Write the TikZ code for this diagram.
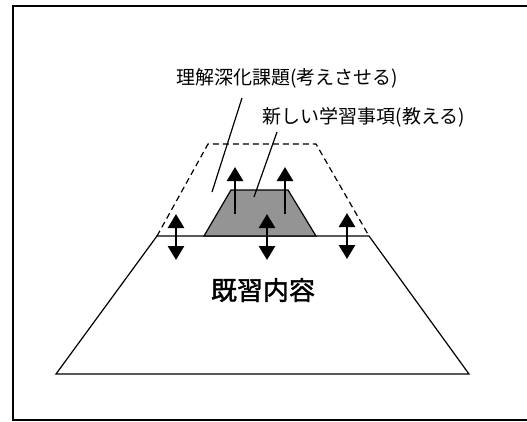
\documentclass[tikz,border=0pt]{standalone}
\usepackage{fontspec}
\newfontfamily\cjk{Noto Sans CJK JP}
\newfontfamily\cjkb[FakeBold=1.6]{Noto Sans CJK JP}
\usetikzlibrary{arrows.meta}

\begin{document}
\begin{tikzpicture}[x=1pt,y=-1pt,line width=1.2pt,
                    >={Triangle[width=16pt,length=14pt]},
                    lbl/.style={font=\cjk\fontsize{19}{19}\selectfont,inner sep=0pt},
                    arr/.style={line width=2.6pt}]

	\useasboundingbox (0,0) rectangle (527,421);
	\draw (13,6) rectangle (540,420);

	\coordinate (BL) at (56,374);
	\coordinate (BR) at (469,374);
	\coordinate (TL) at (157,236);
	\coordinate (TR) at (369,236);
	\coordinate (DL) at (208,144);
	\coordinate (DR) at (316,144);
	\coordinate (GL) at (204,236);
	\coordinate (GR) at (316,236);
	\coordinate (HL) at (231,190);
	\coordinate (HR) at (288,190);

	\draw (TL) -- (BL) -- (BR) -- (TR) -- cycle;
	\draw[dashed,dash pattern=on 6pt off 4pt] (TL) -- (DL) -- (DR) -- (TR);
	\draw[fill=black!42] (GL) -- (HL) -- (HR) -- (GR) -- cycle;

	\node[lbl] (deep) at (287,78)  {理解深化課題(考えさせる)};
	\node[lbl] (new)  at (364,117) {新しい学習事項(教える)};
	\node[font=\cjkb\fontsize{26}{26}\selectfont] (known) at (263,290) {既習内容};

	\coordinate (d1) at (242,98);
	\coordinate (d2) at (212,192);
	\coordinate (n1) at (277,132);
	\coordinate (n2) at (254,197);
	\draw (d1) -- (d2);
	\draw (n1) -- (n2);

	\coordinate (u1) at (235,214);
	\coordinate (u2) at (285,214);
	\draw[arr,->] (u1) -- ++(0,-47);
	\draw[arr,->] (u2) -- ++(0,-47);

	\coordinate (m1) at (176,214);
	\coordinate (m2) at (267,214);
	\coordinate (m3) at (347,213);
	\draw[arr,<->] (m1) -- ++(0,46);
	\draw[arr,<->] (m2) -- ++(0,46);
	\draw[arr,<->] (m3) -- ++(0,46);

\end{tikzpicture}
\end{document}
